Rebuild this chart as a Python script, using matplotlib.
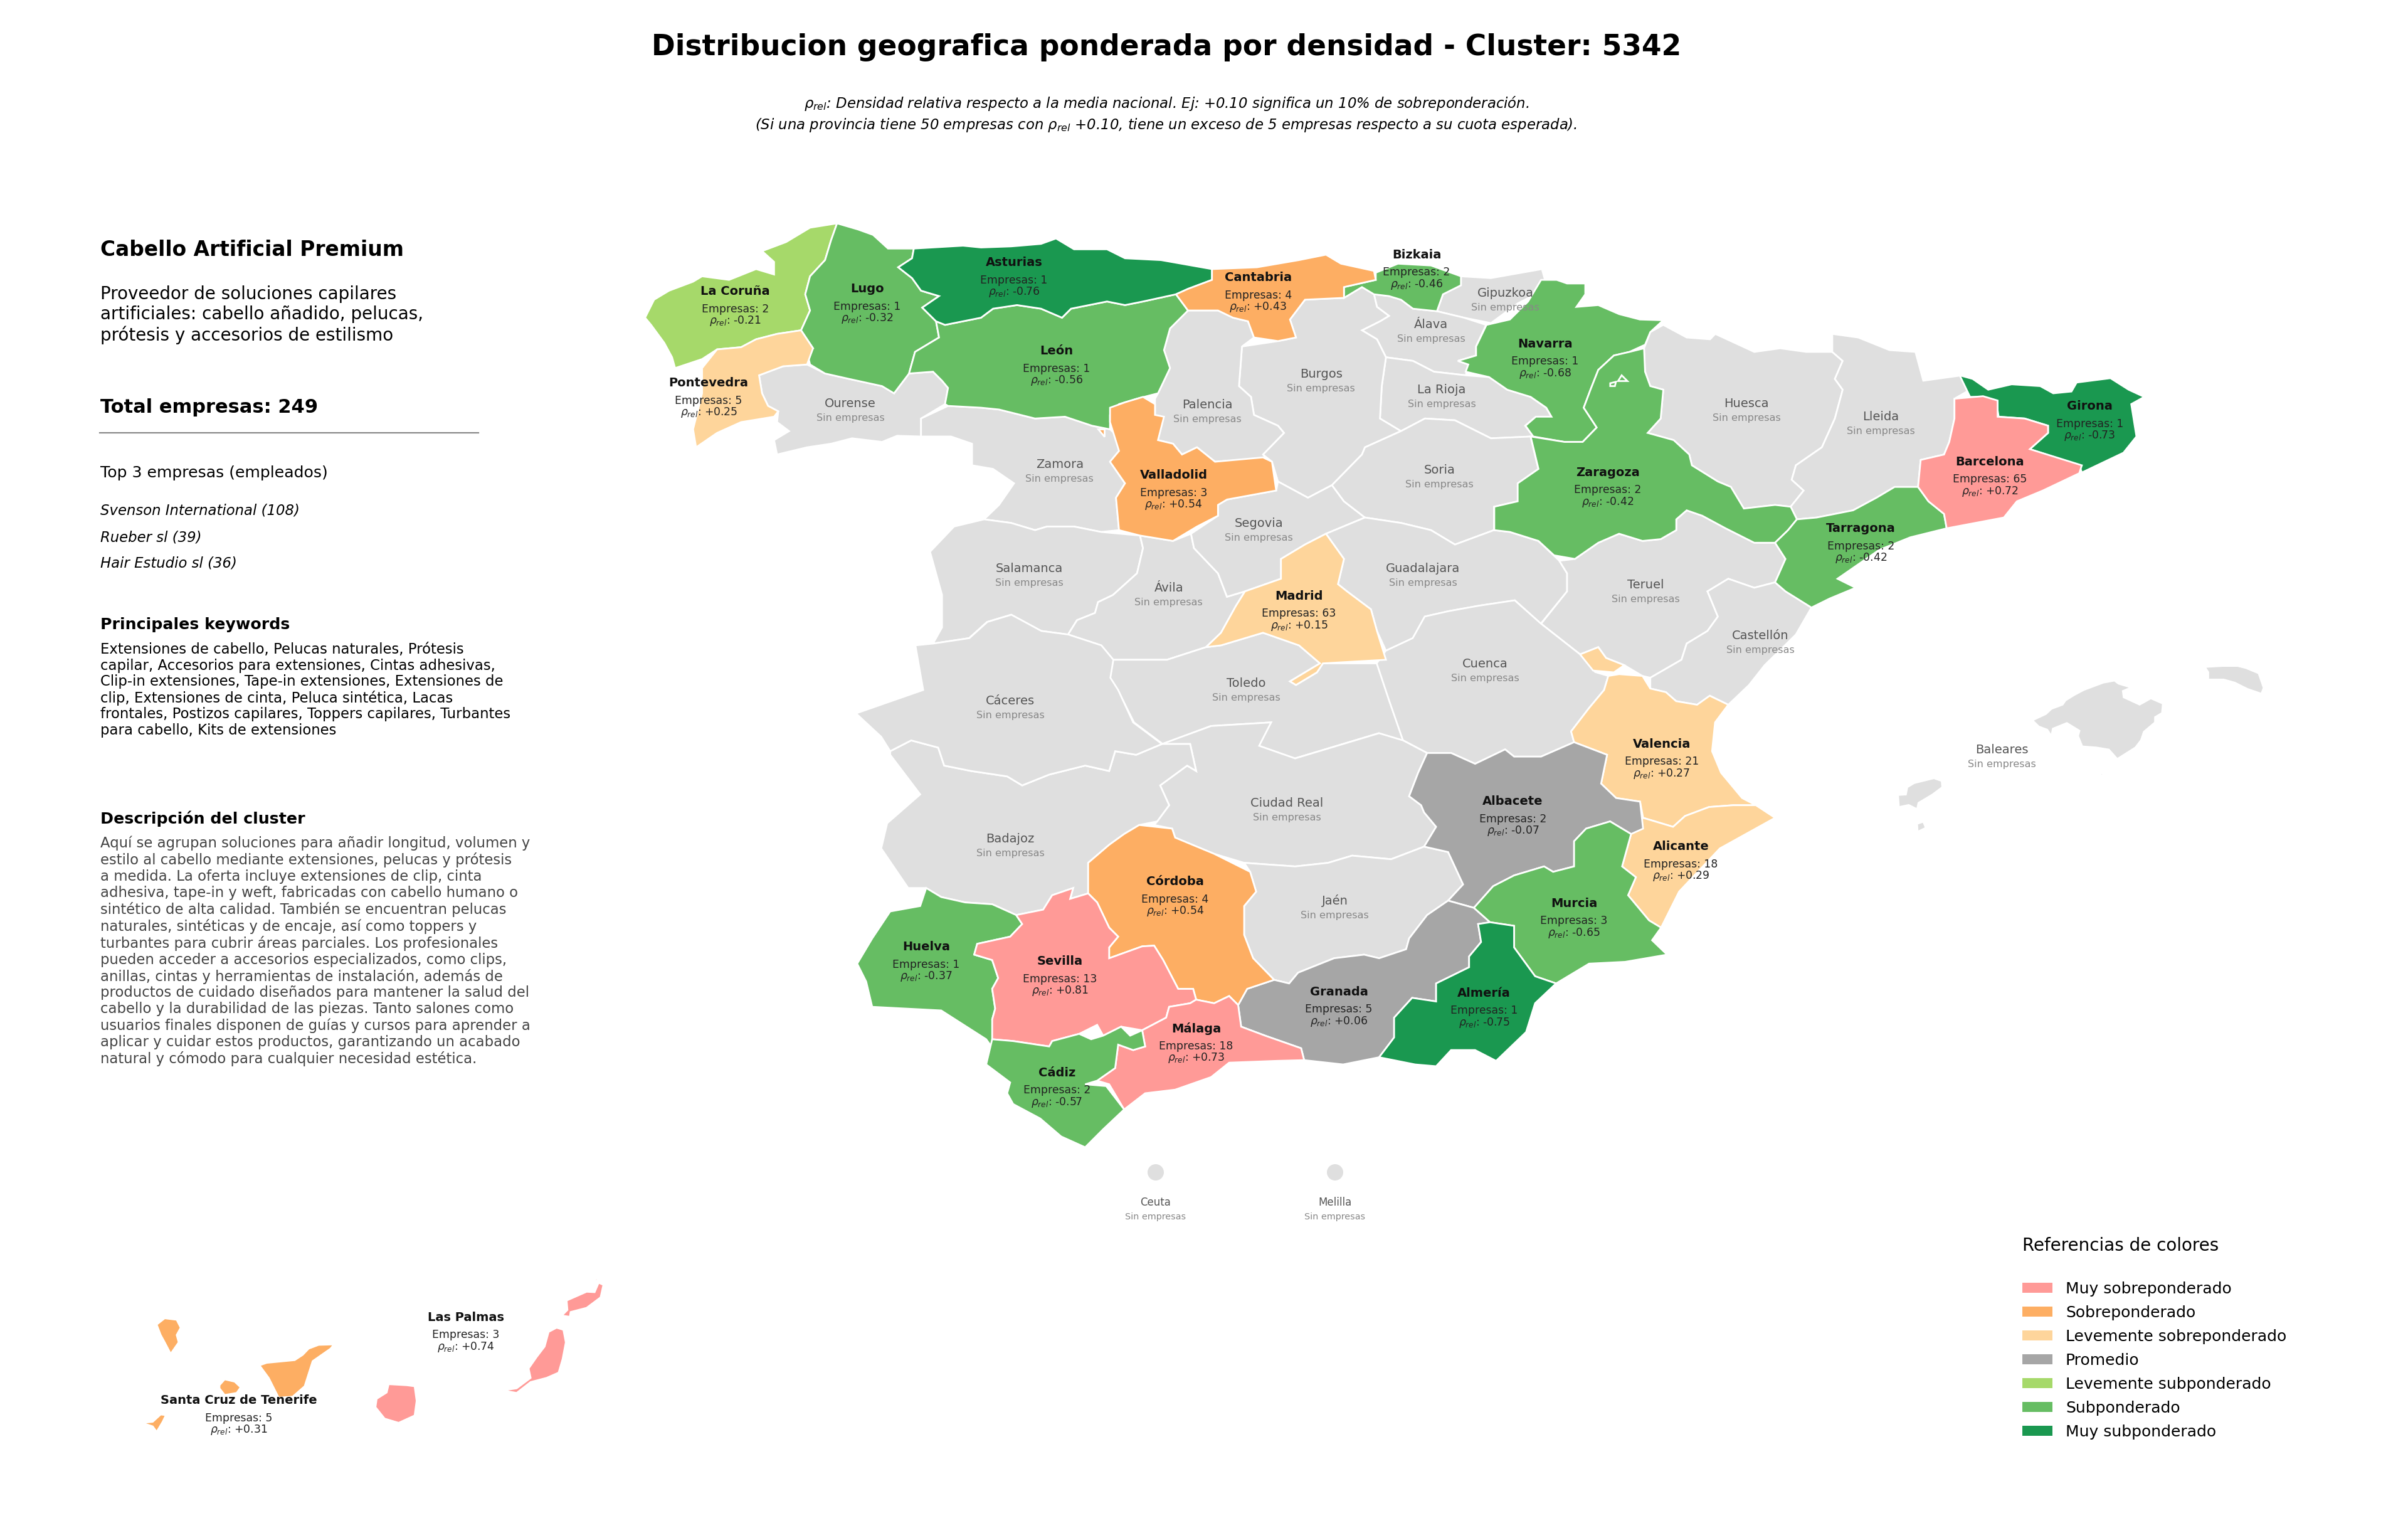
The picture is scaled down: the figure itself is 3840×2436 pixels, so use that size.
import matplotlib
matplotlib.use("Agg")
import matplotlib.pyplot as plt
from matplotlib.patches import Polygon, Patch, Circle

# zoom windows the outlines were traced in: left, top, x scale, y scale
CROP_A = (1000, 340, 1.0453, 1.742)
CROP_B = (2300, 340, 1.206, 1.742)
CROP_C = (1300, 1100, 1.0453, 1.742)
CROP_D = (100, 2000, 1.568, 3.0)
CROP_E = (2950, 1030, 2.24, 3.0)

# ---------- province outlines, north west ----------
LA_CORUNA = [(350,28),(340,75),(330,130),(305,175),(297,225),(305,270),(290,325),(250,335),(215,350),(190,372),(150,378),(125,405),(80,430),(75,400),(62,360),(40,310),(30,290),(45,240),(70,215),(110,190),(125,175),(170,185),(215,155),(245,170),(245,135),(225,105),(265,80),(305,40)]
LUGO = [(350,28),(385,45),(410,60),(435,98),(478,98),(475,125),(452,150),(475,180),(490,215),(520,230),(492,262),(515,300),(520,345),(480,385),(470,445),(445,500),(425,480),(370,460),(330,445),(305,420),(300,385),(310,375),(290,325),(305,270),(297,225),(305,175),(330,130),(340,75)]
PONTEVEDRA = [(290,325),(310,375),(300,420),(260,425),(220,450),(225,500),(235,535),(252,550),(245,565),(190,580),(150,610),(115,650),(110,600),(125,500),(125,430),(150,378),(190,372),(215,350),(250,335)]
OURENSE = [(300,420),(330,445),(370,460),(425,480),(445,500),(470,445),(510,440),(525,465),(535,485),(530,530),(490,570),(490,620),(450,618),(425,635),(375,625),(340,640),(300,650),(250,670),(245,630),(270,605),(250,580),(252,550),(235,535),(225,500),(220,450),(260,425)]
ASTURIAS = [(478,98),(560,90),(590,95),(640,92),(690,85),(715,70),(745,100),(800,100),(830,125),(890,130),(975,155),(975,185),(935,210),(915,225),(860,245),(830,255),(800,245),(770,255),(740,265),(725,290),(690,265),(650,255),(610,265),(590,290),(530,310),(515,300),(492,262),(520,230),(490,215),(475,180),(452,150),(475,125)]
LEON = [(515,300),(530,310),(590,290),(610,265),(650,255),(690,265),(725,290),(740,265),(770,255),(800,245),(830,255),(860,245),(915,225),(935,270),(905,320),(895,380),(905,430),(885,500),(850,515),(820,530),(805,560),(805,600),(775,590),(730,565),(680,570),(620,545),(590,540),(535,535),(530,530),(535,485),(525,465),(510,440),(470,445),(480,385),(520,345)]
CANTABRIA = [(975,155),(1050,150),(1120,130),(1165,115),(1190,140),(1245,160),(1248,185),(1195,205),(1195,235),(1130,240),(1105,295),(1115,345),(1085,355),(1045,345),(1035,300),(1010,290),(985,270),(935,270),(915,225),(935,210),(975,185)]
BIZKAIA = [(1248,165),(1285,140),(1340,145),(1390,175),(1390,200),(1360,225),(1350,272),(1310,265),(1290,240),(1270,230),(1245,225),(1225,205),(1195,235),(1195,205),(1248,185)]
GIPUZKOA = [(1390,175),(1440,180),(1525,155),(1530,185),(1520,220),(1485,250),(1440,305),(1395,290),(1350,272),(1360,225),(1390,200)]
ALAVA = [(1270,230),(1290,240),(1310,265),(1350,272),(1395,290),(1432,310),(1415,370),(1415,395),(1385,410),(1402,420),(1398,450),(1345,440),(1310,410),(1265,400),(1250,350),(1225,325),(1255,300),(1270,285),(1250,260),(1245,225)]
LA_RIOJA = [(1265,400),(1310,410),(1345,440),(1398,450),(1437,455),(1467,490),(1506,510),(1532,540),(1541,565),(1515,565),(1497,590),(1511,620),(1440,625),(1380,575),(1330,570),(1290,605),(1255,570),(1258,480)]
BURGOS = [(1115,345),(1105,295),(1130,240),(1195,235),(1225,205),(1245,225),(1250,260),(1270,285),(1255,300),(1225,325),(1250,350),(1265,400),(1258,480),(1255,570),(1290,605),(1230,650),(1225,670),(1175,755),(1135,790),(1085,745),(1075,690),(1060,670),(1095,610),(1085,590),(1045,560),(1040,510),(1020,480),(1025,370),(1085,355)]
PALENCIA = [(935,270),(985,270),(1010,290),(1035,300),(1045,345),(1025,370),(1020,480),(1040,510),(1045,560),(1085,590),(1095,610),(1060,670),(1065,680),(980,690),(950,650),(925,670),(910,640),(885,630),(880,570),(880,515),(885,500),(905,430),(895,380),(905,320)]
VALLADOLID = [(860,510),(880,530),(880,560),(895,565),(885,630),(910,640),(925,670),(950,650),(980,690),(1060,678),(1075,690),(1082,770),(1000,795),(985,810),(985,840),(950,870),(910,910),(855,895),(820,880),(815,790),(830,750),(805,690),(820,660),(805,580),(805,540),(830,525)]
ZAMORA = [(535,535),(590,540),(620,545),(680,570),(730,565),(775,590),(805,600),(825,630),(820,660),(805,690),(830,750),(815,790),(820,880),(790,885),(745,870),(700,870),(680,880),(640,860),(595,850),(620,810),(645,750),(610,710),(575,700),(575,640),(540,620),(490,620),(490,570)]
SALAMANCA = [(595,850),(640,860),(680,880),(700,870),(745,870),(790,885),(855,895),(860,930),(850,1000),(810,1060),(785,1080),(780,1110),(750,1130),(735,1170),(690,1160),(640,1115),(600,1135),(570,1180),(510,1195),(525,1150),(525,1060),(505,940),(545,870)]
AVILA = [(855,895),(910,910),(940,890),(945,930),(985,1000),(1000,1065),(1030,1050),(1015,1090),(990,1165),(965,1205),(900,1240),(840,1240),(810,1240),(790,1200),(735,1170),(750,1130),(780,1110),(785,1080),(810,1060),(850,1000),(860,930)]
SEGOVIA = [(985,810),(1000,795),(1082,770),(1085,745),(1135,790),(1175,755),(1195,800),(1230,845),(1165,890),(1130,920),(1090,960),(1090,1015),(1030,1050),(1000,1065),(985,1000),(945,930),(940,890),(985,840)]
SORIA = [(1175,755),(1225,670),(1230,650),(1290,605),(1330,570),(1380,575),(1440,625),(1506,620),(1519,710),(1485,750),(1485,800),(1445,815),(1445,880),(1380,920),(1340,880),(1290,860),(1230,845),(1195,800)]
GUADALAJARA = [(1165,890),(1230,845),(1290,860),(1340,880),(1380,920),(1445,880),(1471,885),(1519,910),(1554,965),(1567,1000),(1567,1050),(1523,1140),(1480,1075),(1420,1090),(1370,1105),(1330,1120),(1310,1180),(1265,1215),(1250,1160),(1240,1100),(1200,1050),(1185,1030),(1195,960)]
MADRID = [(1165,890),(1195,960),(1185,1030),(1200,1050),(1240,1100),(1250,1160),(1265,1240),(1160,1250),(1150,1275),(1115,1310),(1105,1300),(1155,1250),(1120,1200),(1060,1165),(990,1200),(965,1205),(990,1165),(1015,1090),(1030,1050),(1090,1015),(1090,960),(1130,920)]
TOLEDO = [(810,1240),(840,1240),(900,1240),(965,1205),(990,1200),(1060,1165),(1120,1200),(1155,1250),(1105,1300),(1115,1310),(1150,1275),(1160,1250),(1250,1250),(1270,1350),(1295,1470),(1253,1444),(1193,1474),(1113,1514),(1053,1479),(1073,1414),(973,1424),(893,1474),(845,1414),(818,1324),(805,1290)]
VALLADOLID_SPECK = [(785,600),(795,600),(795,620)]

# ---------- north east ----------
NAVARRA = [(190,185),(220,185),(240,195),(275,195),(275,225),(258,260),(300,255),(340,280),(380,295),(425,297),(400,330),(390,365),(360,385),(330,395),(300,435),(285,490),(272,540),(297,595),(270,635),(235,635),(175,620),(160,590),(180,565),(210,565),(200,540),(170,510),(125,490),(90,455),(45,440),(50,420),(30,410),(65,395),(65,370),(85,310),(130,295),(165,245)]
ZARAGOZA = [(388,375),(390,440),(400,480),(425,490),(420,570),(395,610),(445,630),(475,670),(480,700),(530,745),(555,760),(580,820),(640,810),(670,815),(682,850),(665,880),(640,915),(600,915),(545,875),(500,840),(470,825),(450,850),(450,880),(420,905),(385,910),(340,890),(300,915),(255,960),(215,950),(185,910),(130,885),(100,880),(100,815),(145,800),(145,750),(185,710),(170,620),(235,635),(270,635),(297,595),(272,540),(285,490),(300,435),(330,395),(360,385)]
NAVARRA_ISLET_1 = [(345,450),(356,466),(338,466)]
NAVARRA_ISLET_2 = [(323,472),(334,468),(332,480),(323,480)]
HUESCA = [(425,310),(470,345),(515,350),(525,335),(570,365),(600,385),(650,375),(700,385),(750,385),(770,410),(755,460),(770,490),(755,570),(730,650),(680,700),(672,740),(695,770),(670,815),(640,810),(580,820),(555,760),(530,745),(480,700),(475,670),(445,630),(395,610),(420,570),(425,490),(400,480),(390,440),(388,375),(400,330)]
LLEIDA = [(750,335),(800,345),(860,380),(910,385),(925,465),(1000,450),(1015,490),(985,515),(985,570),(975,635),(965,670),(920,685),(915,760),(870,760),(835,790),(790,825),(720,845),(682,850),(670,815),(695,770),(672,740),(680,700),(730,650),(755,570),(770,490),(755,460),(770,410),(750,385)]
GIRONA = [(995,450),(1020,460),(1050,490),(1095,475),(1150,480),(1175,500),(1210,495),(1220,470),(1285,458),(1320,490),(1350,510),(1325,530),(1335,620),(1310,665),(1230,720),(1225,700),(1130,655),(1165,610),(1165,590),(1120,570),(1070,565),(1065,520),(1040,510),(1015,510)]
BARCELONA = [(985,515),(1040,508),(1068,520),(1068,565),(1120,570),(1165,590),(1165,610),(1130,655),(1230,700),(1225,722),(1155,770),(1105,800),(1080,845),(970,875),(965,835),(935,800),(915,760),(920,685),(965,670),(975,635),(985,570)]
TARRAGONA = [(915,760),(935,800),(965,835),(970,875),(900,900),(840,935),(790,985),(760,1015),(795,1040),(745,1070),(710,1095),(660,1050),(640,1025),(660,960),(640,915),(665,880),(682,850),(720,845),(790,825),(835,790),(870,760)]
TERUEL = [(225,965),(255,960),(300,915),(340,890),(385,910),(420,905),(450,880),(450,850),(470,825),(500,840),(545,875),(600,915),(640,915),(660,960),(640,1025),(600,1040),(550,1015),(510,1050),(530,1120),(510,1160),(470,1195),(460,1240),(400,1290),(385,1285),(350,1255),(315,1235),(300,1205),(265,1225),(190,1140),(240,1050),(240,1000)]
CASTELLON = [(640,1025),(660,1050),(710,1095),(680,1170),(620,1255),(590,1310),(550,1365),(515,1340),(490,1365),(450,1355),(430,1330),(400,1320),(400,1290),(460,1240),(470,1195),(510,1160),(530,1120),(510,1050),(550,1015),(600,1040)]
ADEMUZ = [(265,1225),(300,1205),(315,1235),(350,1255),(330,1275),(290,1270)]

# ---------- south ----------
VALENCIA = [(1322,-39),(1340,-44),(1379,-39),(1392,-4),(1418,6),(1435,31),(1470,41),(1491,16),(1522,41),(1500,90),(1495,170),(1510,230),(1545,300),(1568,320),(1530,320),(1490,325),(1450,350),(1430,380),(1380,355),(1375,310),(1335,300),(1310,260),(1320,180),(1265,145),(1260,115),(1290,50),(1315,0)]
ALICANTE = [(1380,355),(1430,380),(1450,350),(1490,325),(1530,320),(1568,320),(1600,355),(1508,440),(1440,560),(1410,660),(1390,640),(1355,570),(1368,520),(1345,490),(1360,400)]
MURCIA = [(1325,365),(1360,400),(1345,490),(1368,520),(1355,570),(1390,640),(1410,660),(1395,695),(1420,735),(1350,755),(1290,760),(1235,815),(1200,795),(1165,715),(1165,655),(1125,645),(1098,605),(1130,545),(1165,515),(1215,490),(1230,505),(1265,490),(1265,420),(1285,385)]
ALBACETE = [(1020,175),(1060,175),(1100,205),(1150,165),(1165,185),(1210,185),(1265,145),(1320,180),(1310,260),(1335,300),(1375,310),(1380,385),(1360,400),(1325,365),(1285,385),(1265,420),(1265,490),(1230,505),(1215,490),(1165,515),(1130,545),(1098,605),(1055,585),(1080,540),(1055,450),(1015,435),(1035,380),(1015,340),(1010,320),(990,295),(1005,230)]
CUENCA = [(980,140),(1020,175),(1060,175),(1100,205),(1150,165),(1165,185),(1210,185),(1265,145),(1260,115),(1290,50),(1315,0),(1322,-39),(1300,-50),(1275,-99),(1210,-184),(1166,-249),(1106,-234),(1056,-219),(1016,-204),(996,-144),(951,-109),(936,-74),(956,26),(981,146)]
CIUDAD_REAL = [(578,150),(660,100),(760,90),(740,155),(800,190),(880,150),(940,120),(980,140),(1020,175),(1005,230),(990,295),(1010,320),(1015,340),(1035,380),(1015,435),(960,470),(895,460),(855,480),(800,490),(715,480),(665,455),(600,410),(595,385),(565,375),(570,365),(590,320),(575,265),(620,210),(635,225),(625,150)]
JAEN = [(715,480),(800,490),(855,480),(895,460),(960,470),(1015,435),(1055,450),(1080,540),(1055,585),(1020,625),(990,690),(985,720),(940,745),(915,735),(865,745),(805,785),(790,815),(765,805),(730,745),(715,680),(715,600),(735,560),(725,505)]
GRANADA = [(1055,585),(1098,605),(1125,645),(1105,650),(1110,700),(1090,740),(1090,770),(1035,815),(1035,865),(995,855),(965,910),(965,965),(940,1020),(880,1040),(815,1028),(810,995),(750,960),(710,935),(705,875),(720,830),(765,805),(790,815),(805,785),(865,745),(915,735),(940,745),(985,720),(990,690),(1020,625)]
ALMERIA = [(1125,645),(1165,655),(1165,715),(1200,795),(1235,815),(1200,870),(1185,950),(1135,1030),(1100,1000),(1060,1000),(1035,1045),(1000,1040),(940,1020),(965,965),(965,910),(995,855),(1035,865),(1035,815),(1090,770),(1090,740),(1110,700),(1105,650)]
CORDOBA = [(540,375),(595,385),(600,410),(665,455),(725,505),(735,560),(715,600),(715,680),(730,745),(765,805),(720,830),(705,875),(690,850),(665,870),(635,860),(630,830),(605,830),(580,750),(565,710),(545,712),(490,745),(490,715),(505,685),(490,660),(470,590),(455,565),(455,480),(490,430),(515,400)]
BADAJOZ = [(125,170),(160,140),(205,160),(215,210),(260,225),(320,240),(345,265),(390,235),(450,210),(490,225),(500,170),(535,180),(578,150),(625,150),(635,225),(620,210),(575,265),(590,320),(570,365),(540,375),(515,400),(490,430),(455,480),(455,565),(425,580),(430,550),(395,570),(380,610),(335,625),(295,595),(250,590),(210,575),(185,550),(155,550),(110,440),(120,370),(175,290),(125,180)]
CACERES = [(197,-129),(257,-144),(287,-189),(327,-209),(377,-164),(422,-154),(477,-124),(497,-84),(492,-34),(505,0),(530,90),(578,150),(535,180),(500,170),(490,225),(450,210),(390,235),(345,265),(320,240),(260,225),(215,210),(205,160),(160,140),(125,170),(110,130),(68,65),(180,0),(167,-124)]
HUELVA = [(185,550),(210,575),(250,590),(295,595),(335,625),(345,650),(325,685),(270,705),(265,735),(295,750),(305,800),(295,830),(300,885),(295,915),(300,1005),(285,970),(210,890),(95,880),(85,810),(70,760),(95,690),(125,615),(175,600)]
SEVILLA = [(430,550),(425,580),(455,565),(470,590),(490,660),(505,685),(490,715),(490,745),(545,712),(565,710),(580,750),(605,830),(630,830),(635,860),(625,870),(590,880),(585,910),(545,945),(510,935),(480,960),(470,930),(440,955),(395,975),(390,990),(330,975),(295,970),(295,915),(300,885),(295,830),(305,800),(295,750),(265,735),(270,705),(325,685),(345,650),(335,625),(380,610),(395,570)]
MALAGA = [(635,860),(665,870),(690,850),(705,875),(710,935),(750,960),(810,995),(815,1028),(770,1030),(690,1035),(660,1075),(600,1110),(550,1120),(515,1165),(490,1095),(470,1085),(500,1050),(505,985),(530,1000),(550,990),(545,945),(585,910),(590,880),(625,870)]
CADIZ = [(295,970),(330,975),(390,990),(395,975),(440,955),(460,970),(480,960),(510,935),(525,960),(545,945),(550,990),(530,1000),(505,985),(500,1050),(470,1085),(450,1095),(485,1100),(515,1165),(480,1220),(450,1270),(410,1240),(375,1190),(330,1150),(320,1120),(325,1090),(285,1040)]
CEUTA_SPECK = [(553,1208),(560,1210),(558,1214)]
MELILLA_SPECK = [(875,1238),(879,1238),(878,1250)]

# ---------- islands ----------
MALLORCA = [(652,355),(700,325),(720,300),(760,280),(770,260),(800,235),(835,210),(905,175),(945,165),(960,180),(1005,198),(975,215),(978,245),(1035,280),(1075,250),(1118,275),(1115,320),(1090,340),(1090,365),(1050,410),(1040,450),(1020,485),(955,540),(925,495),(880,485),(830,480),(815,430),(820,405),(775,368),(725,395),(720,430),(705,400),(675,385)]
MENORCA = [(1268,100),(1330,95),(1385,95),(1415,105),(1460,130),(1478,200),(1470,228),(1420,205),(1375,175),(1335,160),(1280,160),(1280,125)]
IBIZA = [(172,712),(200,710),(205,675),(230,655),(300,632),(328,645),(330,675),(295,710),(245,750),(240,780),(210,760),(175,770)]
FORMENTERA = [(240,850),(262,840),(270,865),(295,882),(318,878),(300,888),(270,870),(242,888)]
CABRERA = [(895,610),(905,610),(900,618)]
LA_PALMA = [(235,335),(255,305),(285,312),(295,350),(285,385),(290,420),(270,475),(255,420),(245,385)]
EL_HIERRO = [(198,805),(225,800),(245,765),(258,768),(250,800),(235,848),(225,822)]
LA_GOMERA = [(392,625),(405,597),(430,608),(445,635),(435,662),(405,672),(392,640)]
TENERIFE = [(492,530),(510,518),(580,505),(600,480),(615,450),(640,432),(678,430),(670,450),(625,510),(620,540),(605,630),(575,680),(540,685),(515,590)]
GRAN_CANARIA = [(815,620),(860,625),(880,630),(885,700),(880,770),(840,805),(805,785),(782,730),(785,690),(810,660)]
FUERTEVENTURA = [(1215,370),(1235,350),(1252,360),(1258,420),(1250,500),(1240,565),(1210,590),(1170,610),(1135,662),(1100,650),(1135,640),(1170,590),(1165,545),(1185,490),(1205,440)]
LANZAROTE = [(1260,220),(1310,178),(1330,180),(1340,135),(1352,145),(1345,205),(1310,255),(1270,275),(1268,298),(1248,292),(1262,265)]
LA_GRACIOSA = [(1330,125),(1335,108),(1338,125)]

# ---------- colours and legend ----------
MUY_SOBRE = "#ff9a97"
SOBRE = "#fdae63"
LEVE_SOBRE = "#fed59b"
PROMEDIO = "#a6a6a6"
LEVE_SUB = "#a6d96a"
SUB = "#66bd63"
MUY_SUB = "#1a9850"
SIN_DATOS = "#dfdfdf"

LEGEND_LABELS = ["Muy sobreponderado", "Sobreponderado", "Levemente sobreponderado", "Promedio",
                 "Levemente subponderado", "Subponderado", "Muy subponderado"]
LEGEND_COLORS = [MUY_SOBRE, SOBRE, LEVE_SOBRE, PROMEDIO, LEVE_SUB, SUB, MUY_SUB]

# ---------- values per province with companies ----------
NAMES = ["La Coruña", "Lugo", "Asturias", "León", "Pontevedra", "Cantabria", "Bizkaia", "Valladolid", "Madrid",
         "Navarra", "Zaragoza", "Tarragona", "Barcelona", "Girona", "Valencia",
         "Albacete", "Alicante", "Murcia", "Córdoba", "Huelva", "Sevilla", "Málaga", "Granada", "Almería", "Cádiz",
         "Las Palmas", "Santa Cruz de Tenerife"]
EMPRESAS = [2, 1, 1, 1, 5, 4, 2, 3, 63,
            1, 2, 2, 65, 1, 21,
            2, 18, 3, 4, 1, 13, 18, 5, 1, 2,
            3, 5]
RHO = [-0.21, -0.32, -0.76, -0.56, 0.25, 0.43, -0.46, 0.54, 0.15,
       -0.68, -0.42, -0.42, 0.72, -0.73, 0.27,
       -0.07, 0.29, -0.65, 0.54, -0.37, 0.81, 0.73, 0.06, -0.75, -0.57,
       0.74, 0.31]

EMPTY_NAMES = ["Ourense", "Palencia", "Burgos", "Gipuzkoa", "Álava", "La Rioja", "Zamora", "Soria", "Segovia",
               "Salamanca", "Ávila", "Guadalajara", "Cáceres", "Toledo", "Cuenca",
               "Huesca", "Lleida", "Teruel", "Castellón", "Badajoz", "Ciudad Real", "Jaén", "Baleares"]

# outline, crop, colour
SHAPES = [
    (OURENSE, CROP_A, SIN_DATOS), (GIPUZKOA, CROP_A, SIN_DATOS), (ALAVA, CROP_A, SIN_DATOS), (LA_RIOJA, CROP_A, SIN_DATOS),
    (BURGOS, CROP_A, SIN_DATOS), (PALENCIA, CROP_A, SIN_DATOS), (ZAMORA, CROP_A, SIN_DATOS), (SALAMANCA, CROP_A, SIN_DATOS),
    (AVILA, CROP_A, SIN_DATOS), (SEGOVIA, CROP_A, SIN_DATOS), (SORIA, CROP_A, SIN_DATOS), (GUADALAJARA, CROP_A, SIN_DATOS),
    (TOLEDO, CROP_A, SIN_DATOS), (HUESCA, CROP_B, SIN_DATOS), (LLEIDA, CROP_B, SIN_DATOS), (TERUEL, CROP_B, SIN_DATOS),
    (CASTELLON, CROP_B, SIN_DATOS), (CUENCA, CROP_C, SIN_DATOS), (CIUDAD_REAL, CROP_C, SIN_DATOS), (JAEN, CROP_C, SIN_DATOS),
    (BADAJOZ, CROP_C, SIN_DATOS), (CACERES, CROP_C, SIN_DATOS), (CEUTA_SPECK, CROP_C, SIN_DATOS), (MELILLA_SPECK, CROP_C, SIN_DATOS),
    (MALLORCA, CROP_E, SIN_DATOS), (MENORCA, CROP_E, SIN_DATOS), (IBIZA, CROP_E, SIN_DATOS), (FORMENTERA, CROP_E, SIN_DATOS), (CABRERA, CROP_E, SIN_DATOS),
    (LA_CORUNA, CROP_A, LEVE_SUB), (LUGO, CROP_A, SUB), (LEON, CROP_A, SUB), (BIZKAIA, CROP_A, SUB),
    (ASTURIAS, CROP_A, MUY_SUB), (PONTEVEDRA, CROP_A, LEVE_SOBRE), (CANTABRIA, CROP_A, SOBRE),
    (VALLADOLID, CROP_A, SOBRE), (VALLADOLID_SPECK, CROP_A, SOBRE), (MADRID, CROP_A, LEVE_SOBRE),
    (NAVARRA, CROP_B, SUB), (ZARAGOZA, CROP_B, SUB), (NAVARRA_ISLET_1, CROP_B, SUB), (NAVARRA_ISLET_2, CROP_B, SUB),
    (TARRAGONA, CROP_B, SUB), (GIRONA, CROP_B, MUY_SUB), (BARCELONA, CROP_B, MUY_SOBRE), (ADEMUZ, CROP_B, LEVE_SOBRE),
    (VALENCIA, CROP_C, LEVE_SOBRE), (ALICANTE, CROP_C, LEVE_SOBRE), (ALBACETE, CROP_C, PROMEDIO), (GRANADA, CROP_C, PROMEDIO),
    (MURCIA, CROP_C, SUB), (ALMERIA, CROP_C, MUY_SUB), (CORDOBA, CROP_C, SOBRE), (HUELVA, CROP_C, SUB),
    (SEVILLA, CROP_C, MUY_SOBRE), (MALAGA, CROP_C, MUY_SOBRE), (CADIZ, CROP_C, SUB),
    (LA_PALMA, CROP_D, SOBRE), (EL_HIERRO, CROP_D, SOBRE), (LA_GOMERA, CROP_D, SOBRE), (TENERIFE, CROP_D, SOBRE),
    (GRAN_CANARIA, CROP_D, MUY_SOBRE), (FUERTEVENTURA, CROP_D, MUY_SOBRE), (LANZAROTE, CROP_D, MUY_SOBRE), (LA_GRACIOSA, CROP_D, MUY_SOBRE),
]

# label anchors, as read in the crops
LABEL_AT = {
    "La Coruña": (180,217,CROP_A), "Lugo": (400,210,CROP_A), "Asturias": (645,137,CROP_A), "León": (716,383,CROP_A),
    "Pontevedra": (136,472,CROP_A), "Cantabria": (1052,179,CROP_A), "Bizkaia": (1316,115,CROP_A),
    "Valladolid": (911,728,CROP_A), "Madrid": (1120,1063,CROP_A),
    "Navarra": (198,363,CROP_B), "Zaragoza": (318,720,CROP_B), "Tarragona": (805,876,CROP_B), "Barcelona": (1053,690,CROP_B),
    "Girona": (1245,536,CROP_B), "Valencia": (422,1474,CROP_B),
    "Albacete": (1163,310,CROP_C), "Alicante": (1443,435,CROP_C), "Murcia": (1265,593,CROP_C), "Córdoba": (600,533,CROP_C),
    "Huelva": (185,714,CROP_C), "Sevilla": (408,754,CROP_C), "Málaga": (635,940,CROP_C), "Granada": (873,838,CROP_C),
    "Almería": (1115,842,CROP_C), "Cádiz": (403,1063,CROP_C),
    "Las Palmas": (1008,300,CROP_D), "Santa Cruz de Tenerife": (440,698,CROP_D),
    "Ourense": (372,528,CROP_A), "Palencia": (967,533,CROP_A), "Burgos": (1157,447,CROP_A), "Gipuzkoa": (1464,222,CROP_A),
    "Álava": (1340,309,CROP_A), "La Rioja": (1358,490,CROP_A), "Zamora": (721,698,CROP_A), "Soria": (1354,713,CROP_A),
    "Segovia": (1053,862,CROP_A), "Salamanca": (670,987,CROP_A), "Ávila": (903,1041,CROP_A), "Guadalajara": (1327,986,CROP_A),
    "Cáceres": (639,1354,CROP_A), "Toledo": (1032,1306,CROP_A), "Cuenca": (1430,1252,CROP_A),
    "Huesca": (585,528,CROP_B), "Lleida": (843,566,CROP_B), "Teruel": (391,1033,CROP_B), "Castellón": (612,1174,CROP_B),
    "Badajoz": (325,414,CROP_C), "Ciudad Real": (786,314,CROP_C), "Jaén": (866,586,CROP_C), "Baleares": (542,497,CROP_E),
}

# ---------- side panel text ----------
TITLE = "Distribucion geografica ponderada por densidad - Cluster: 5342"
SUBTITLE = ("$\\rho_{rel}$: Densidad relativa respecto a la media nacional. Ej: +0.10 significa un 10% de sobreponderación.\n"
            "(Si una provincia tiene 50 empresas con $\\rho_{rel}$ +0.10, tiene un exceso de 5 empresas respecto a su cuota esperada).")
CLUSTER_NAME = "Cabello Artificial Premium"
CLUSTER_TAGLINE = "Proveedor de soluciones capilares\nartificiales: cabello añadido, pelucas,\nprótesis y accesorios de estilismo"
TOTAL = "Total empresas: 249"
TOP_TITLE = "Top 3 empresas (empleados)"
TOP_COMPANIES = ["Svenson International (108)", "Rueber sl (39)", "Hair Estudio sl (36)"]
KEYWORDS = ("Extensiones de cabello, Pelucas naturales, Prótesis\n"
            "capilar, Accesorios para extensiones, Cintas adhesivas,\n"
            "Clip-in extensiones, Tape-in extensiones, Extensiones de\n"
            "clip, Extensiones de cinta, Peluca sintética, Lacas\n"
            "frontales, Postizos capilares, Toppers capilares, Turbantes\n"
            "para cabello, Kits de extensiones")
DESCRIPTION = ("Aquí se agrupan soluciones para añadir longitud, volumen y\n"
               "estilo al cabello mediante extensiones, pelucas y prótesis\n"
               "a medida. La oferta incluye extensiones de clip, cinta\n"
               "adhesiva, tape-in y weft, fabricadas con cabello humano o\n"
               "sintético de alta calidad. También se encuentran pelucas\n"
               "naturales, sintéticas y de encaje, así como toppers y\n"
               "turbantes para cubrir áreas parciales. Los profesionales\n"
               "pueden acceder a accesorios especializados, como clips,\n"
               "anillas, cintas y herramientas de instalación, además de\n"
               "productos de cuidado diseñados para mantener la salud del\n"
               "cabello y la durabilidad de las piezas. Tanto salones como\n"
               "usuarios finales disponen de guías y cursos para aprender a\n"
               "aplicar y cuidar estos productos, garantizando un acabado\n"
               "natural y cómodo para cualquier necesidad estética.")


def to_px(pts, crop):
    left, top, sx, sy = crop
    return [(left + x / sx, top + y / sy) for x, y in pts]


fig = plt.figure(figsize=(19.2, 12.18), dpi=200)
ax = fig.add_axes([0, 0, 1, 1])
ax.set_xlim(0, 3840)
ax.set_ylim(2436, 0)
ax.axis("off")

for outline, crop, color in SHAPES:
    ax.add_patch(Polygon(to_px(outline, crop), closed=True, facecolor=color, edgecolor="white", linewidth=1.0))

# Ceuta and Melilla are only dots
for cx, name in [(1843, "Ceuta"), (2129, "Melilla")]:
    ax.add_patch(Circle((cx, 1869), 13, facecolor=SIN_DATOS, edgecolor="none"))
    ax.text(cx, 1917, name, ha="center", va="center", fontsize=6, color="#555555")
    ax.text(cx, 1940, "Sin empresas", ha="center", va="center", fontsize=5.2, color="#888888")

for name, n, rho in zip(NAMES, EMPRESAS, RHO):
    x, y = to_px([LABEL_AT[name][:2]], LABEL_AT[name][2])[0]
    ax.text(x, y, name, ha="center", va="center", fontsize=7, fontweight="bold", color="#111111")
    ax.text(x, y + 28, f"Empresas: {n}", ha="center", va="center", fontsize=6.2, color="#222222")
    ax.text(x, y + 47, f"$\\rho_{{rel}}$: {rho:+.2f}", ha="center", va="center", fontsize=6.2, color="#222222")

for name in EMPTY_NAMES:
    x, y = to_px([LABEL_AT[name][:2]], LABEL_AT[name][2])[0]
    ax.text(x, y, name, ha="center", va="center", fontsize=7, color="#555555")
    ax.text(x, y + 23, "Sin empresas", ha="center", va="center", fontsize=5.8, color="#888888")

# header
ax.text(1860, 76, TITLE, ha="center", va="center", fontsize=16.4, fontweight="bold", color="black")
ax.text(1860, 182, SUBTITLE, ha="center", va="center", fontsize=8.2, style="italic", color="black", linespacing=1.35)

# left panel
LEFT = 160
ax.text(LEFT, 398, CLUSTER_NAME, ha="left", va="center", fontsize=11.85, fontweight="bold")
ax.text(LEFT, 502, CLUSTER_TAGLINE, ha="left", va="center", fontsize=10, linespacing=1.2)
ax.text(LEFT, 650, TOTAL, ha="left", va="center", fontsize=11, fontweight="bold")
ax.plot([159, 763], [690, 690], color="#888888", linewidth=0.8)
ax.text(LEFT, 754, TOP_TITLE, ha="left", va="center", fontsize=9.05)
for y, company in zip([814, 857, 898], TOP_COMPANIES):
    ax.text(LEFT, y, company, ha="left", va="center", fontsize=8.2, style="italic")
ax.text(LEFT, 996, "Principales keywords", ha="left", va="center", fontsize=9.1, fontweight="bold")
ax.text(LEFT, 1100, KEYWORDS, ha="left", va="center", fontsize=8.2, linespacing=1.14)
ax.text(LEFT, 1305, "Descripción del cluster", ha="left", va="center", fontsize=9.1, fontweight="bold")
ax.text(LEFT, 1516, DESCRIPTION, ha="left", va="center", fontsize=8.2, color="#444444", linespacing=1.16)

# legend
handles = [Patch(facecolor=c, edgecolor="none", label=l) for c, l in zip(LEGEND_COLORS, LEGEND_LABELS)]
leg = ax.legend(handles=handles, title="Referencias de colores", loc="upper left",
                bbox_to_anchor=(3225, 1972), bbox_transform=ax.transData, frameon=False,
                fontsize=9, title_fontsize=10, borderpad=0, borderaxespad=0,
                handlelength=1.92, handleheight=0.6, handletextpad=0.84, labelspacing=0.56)
leg._legend_box.align = "left"
leg._legend_box.sep = 15.5

fig.savefig("out.png", dpi=200)
